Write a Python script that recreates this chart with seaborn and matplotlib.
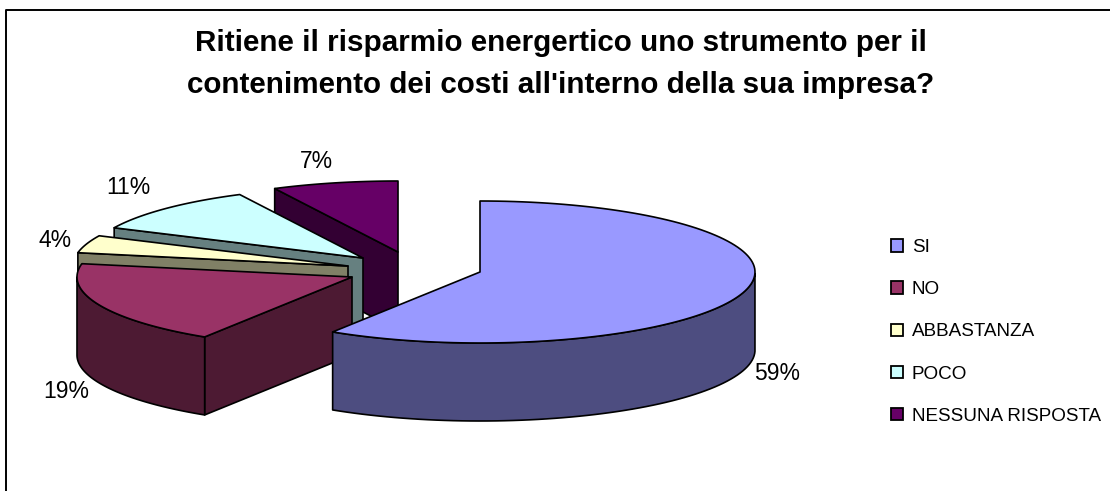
import numpy as np
import matplotlib
matplotlib.use("Agg")
import matplotlib.pyplot as plt
from matplotlib.patches import Patch
import seaborn as sns

# Data (labels show the rounded shares)
categories = ["SI", "NO", "ABBASTANZA", "POCO", "NESSUNA RISPOSTA"]
shares = [59.0, 19.0, 4.0, 10.6, 7.4]
colors = ["#9999FF", "#993366", "#FFFFCC", "#CCFFFF", "#660066"]
title = "Ritiene il risparmio energertico uno strumento per il\ncontenimento dei costi all'interno della sua impresa?"

# Geometry of the fake 3D pie, in pixels
RX, RY, DEPTH = 275, 71, 78
apexes = [(480, 272), (352, 277), (348, 266), (363, 258), (398, 252)]
label_pos = [(777, 373), (66, 392), (55, 240), (128, 187), (316, 161)]

sns.set_theme(style="white")
plt.rcParams["font.family"] = ["Liberation Sans", "DejaVu Sans"]

fig, ax = plt.subplots(figsize=(11.1, 4.91), dpi=100)
ax.set_position([0, 0, 1, 1])
ax.set_xlim(0, 1110)
ax.set_ylim(491, 0)
ax.axis("off")

palette = sns.color_palette(colors)
edges = np.cumsum([0] + shares) / sum(shares) * 2 * np.pi


def arc(cx, cy, a0, a1):
    t = np.linspace(a0, a1, 120)
    return cx + RX * np.sin(t), cy - RY * np.cos(t)


def poly(xs, ys, color):
    ax.fill(xs, ys, facecolor=color, edgecolor="black", linewidth=1.2, joinstyle="round")


# back slices first, the big front one last
for i in [4, 3, 2, 1, 0]:
    cx, cy = apexes[i]
    top = palette[i]
    side = tuple(c * 0.5 for c in top)
    x, y = arc(cx, cy, edges[i], edges[i + 1])
    # flat cut faces, only those turned towards the viewer
    if edges[i] > np.pi:
        poly([cx, x[0], x[0], cx], [cy, y[0], y[0] + DEPTH, cy + DEPTH], side)
    if edges[i + 1] < np.pi:
        poly([cx, x[-1], x[-1], cx], [cy, y[-1], y[-1] + DEPTH, cy + DEPTH], side)
    # outer curved wall, only the part that faces the viewer
    front = np.cos(np.linspace(edges[i], edges[i + 1], 120)) <= 0
    if front.any():
        fx, fy = x[front], y[front]
        poly(np.r_[fx, fx[::-1]], np.r_[fy, fy[::-1] + DEPTH], side)
    poly(np.r_[cx, x], np.r_[cy, y], top)

for s, (lx, ly) in zip(shares, label_pos):
    ax.text(lx, ly, f"{s:.0f}%", ha="center", va="center", fontsize=16.5, color="black")

ax.text(561, 64, title, ha="center", va="center", fontsize=21.3, fontweight="bold",
        color="black", linespacing=1.6)

handles = [Patch(facecolor=c, edgecolor="black", linewidth=1.3) for c in palette]
ax.legend(handles, categories, loc="center left", bbox_to_anchor=(891, 332),
          bbox_transform=ax.transData, frameon=False, fontsize=13.6, labelcolor="black",
          handlelength=0.65, handleheight=0.65, handletextpad=0.45,
          labelspacing=1.33, borderpad=0, borderaxespad=0)

# chart frame
ax.plot([6, 6, 1110], [491, 10, 10], color="black", linewidth=1.4, clip_on=False)

fig.savefig("out.png", dpi=100)
